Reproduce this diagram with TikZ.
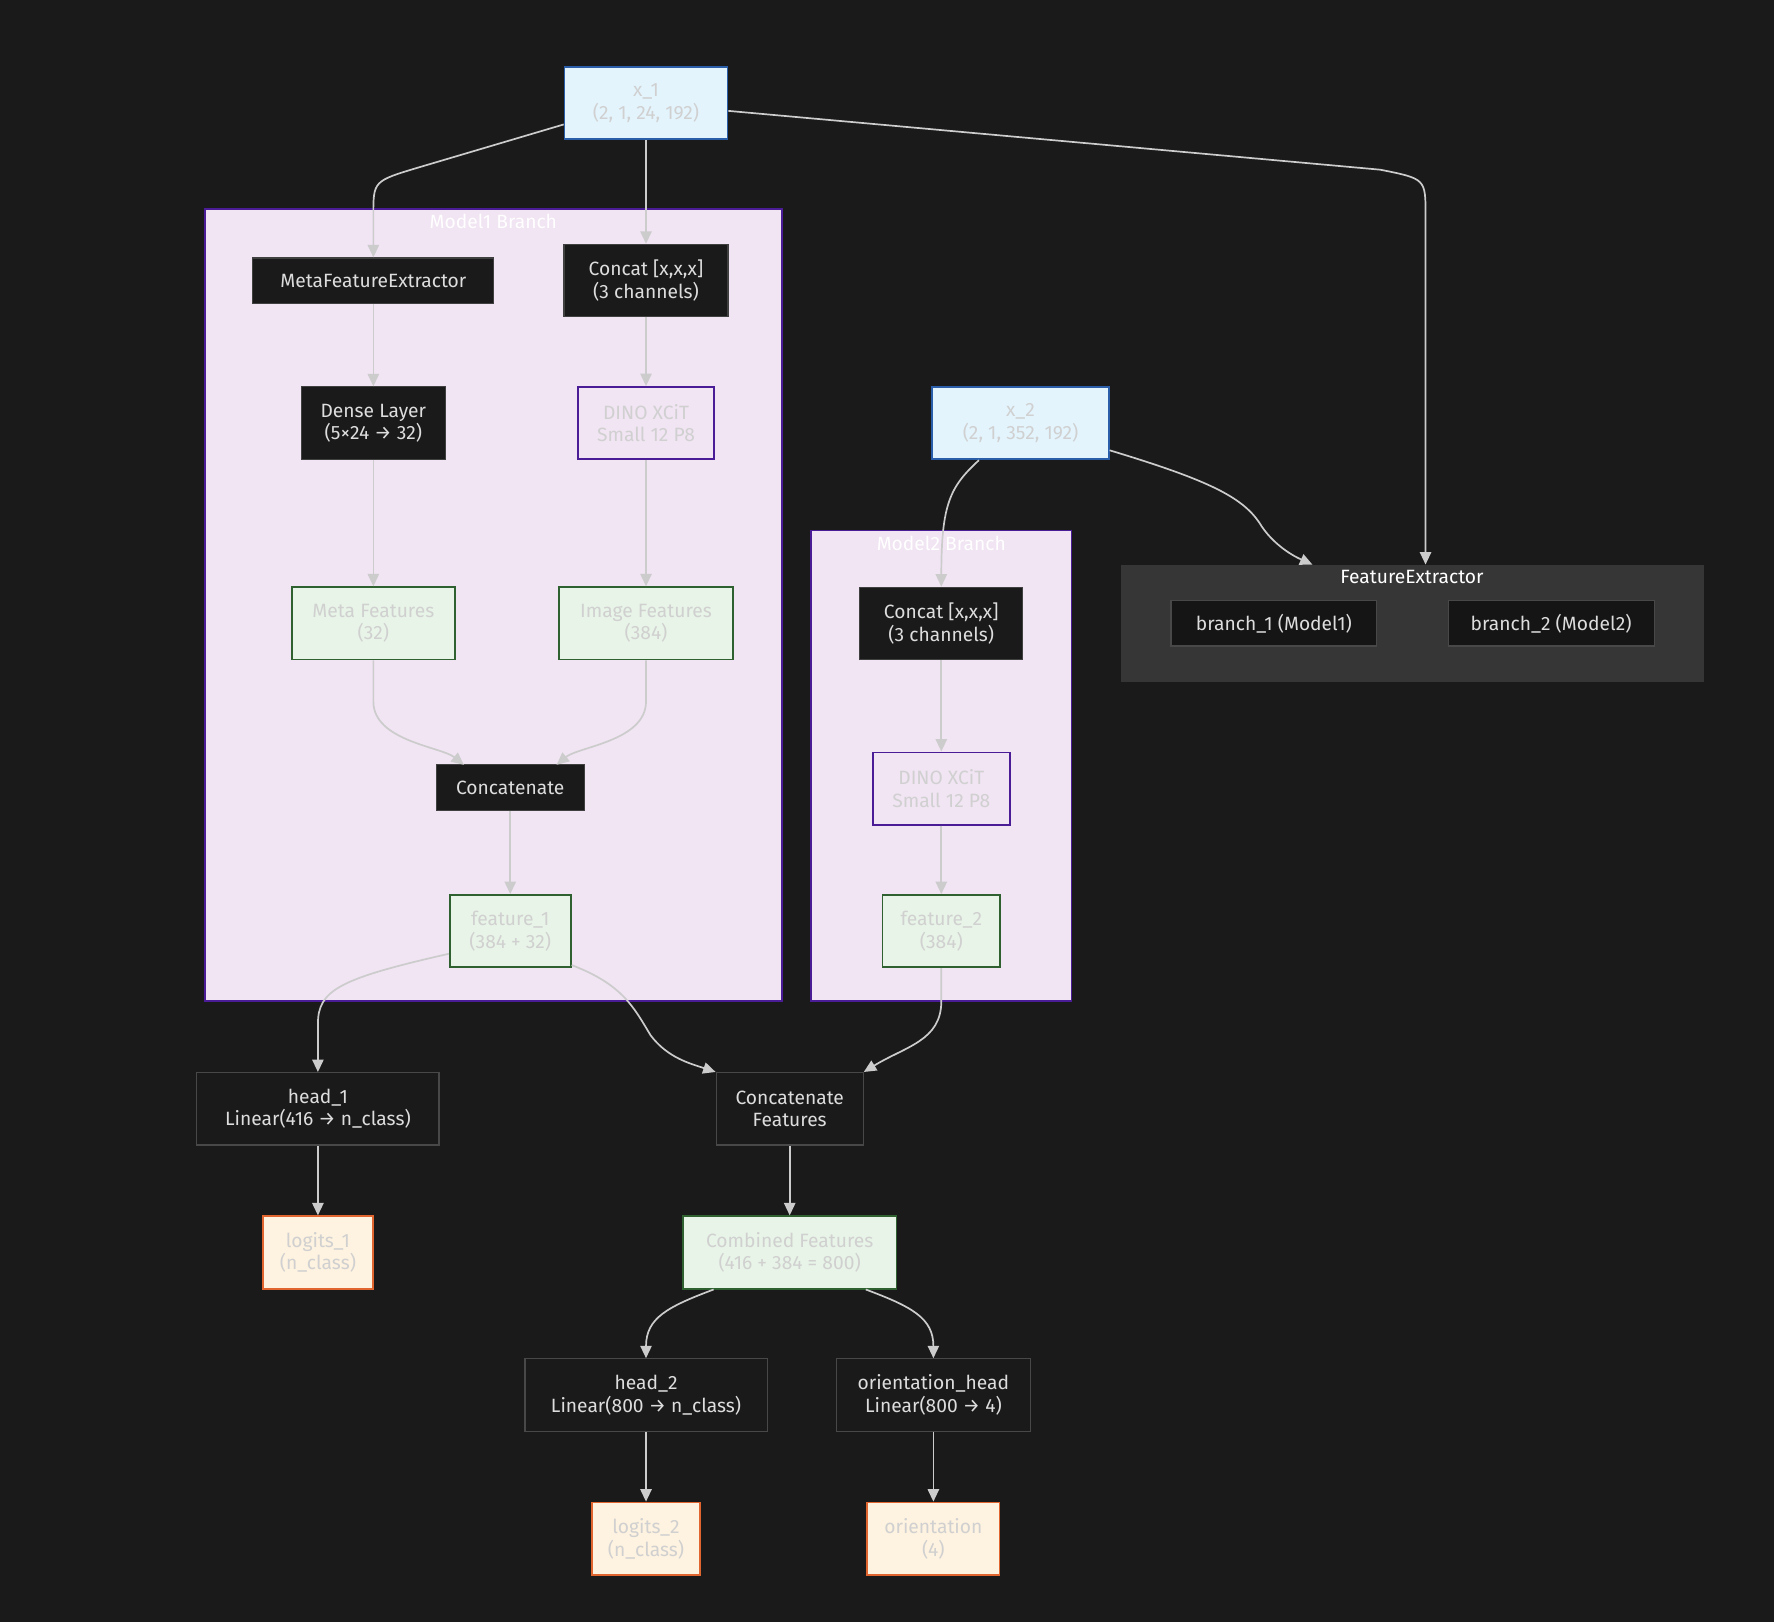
\documentclass[tikz,border=0pt]{standalone}
\usepackage{fontspec}
\setmainfont{Fira Sans}
\usetikzlibrary{arrows.meta}
\definecolor{bg}{HTML}{1A1A1A}
\definecolor{txt}{HTML}{DDDDDD}
\definecolor{lt}{HTML}{D0D0D0}
\definecolor{lav}{HTML}{F1E4F3}
\definecolor{pur}{HTML}{4A1D96}
\definecolor{bluef}{HTML}{E3F4FD}
\definecolor{blueb}{HTML}{2A5EA8}
\definecolor{grf}{HTML}{E8F4E7}
\definecolor{grb}{HTML}{2F6130}
\definecolor{orf}{HTML}{FEF2E0}
\definecolor{orb}{HTML}{E0652E}
\definecolor{edge}{HTML}{CCCCCC}
\begin{document}
\begin{tikzpicture}[x=1pt,y=-1pt,
  every node/.style={font=\fontsize{17}{20}\selectfont, align=center, inner sep=0pt, line width=1.5pt},
  dark/.style={fill=bg, draw=black!50!gray, text=txt, line width=1pt},
  dk2/.style={fill=bg, draw=white!20!bg, text=txt, line width=1pt},
  inp/.style={fill=bluef, draw=blueb, text=lt},
  mdl/.style={fill=lav, draw=pur, text=lt},
  feat/.style={fill=grf, draw=grb, text=lt},
  outp/.style={fill=orf, draw=orb, text=lt},
  cl/.style={fill=lav, draw=pur, line width=1.5pt},
  lbl/.style={text=white},
  e/.style={draw=edge, line width=1.5pt, -{Triangle[length=11pt,width=10pt]}}]
\fill[bg] (0,0) rectangle (1568,1434);
\useasboundingbox (0,0) rectangle (1568,1434);
% clusters
\draw[cl] (181,185) rectangle (691,885);
\node[lbl] (m1l) at (436,196) {Model1 Branch};
\draw[cl] (717,469) rectangle (947,885);
\node[lbl] (m2l) at (832,480) {Model2 Branch};
\fill[white!12!bg] (991,499) rectangle (1506,603);
\node[lbl] (fel) at (1248,510) {FeatureExtractor};
\coordinate (fetop) at (1160,499);
\coordinate (fetop2) at (1260,499);
% nodes
\node[inp, minimum width=144pt, minimum height=64pt] (x1) at (571,91) {x\_1\\(2, 1, 24, 192)};
\node[dark, minimum width=213pt, minimum height=40pt] (mfe) at (330,248) {MetaFeatureExtractor};
\node[dark, minimum width=145pt, minimum height=64pt] (c1) at (571,248) {Concat [x,x,x]\\(3 channels)};
\node[dark, minimum width=127pt, minimum height=64pt] (dense) at (330,374) {Dense Layer\\(5×24 → 32)};
\node[mdl, minimum width=120pt, minimum height=64pt] (dino1) at (571,374) {DINO XCiT\\Small 12 P8};
\node[feat, minimum width=144pt, minimum height=64pt] (mf) at (330,551) {Meta Features\\(32)};
\node[feat, minimum width=154pt, minimum height=64pt] (imf) at (571,551) {Image Features\\(384)};
\node[dark, minimum width=131pt, minimum height=41pt] (cat) at (451,696) {Concatenate};
\node[feat, minimum width=107pt, minimum height=64pt] (f1) at (451,823) {feature\_1\\(384 + 32)};
\node[inp, minimum width=156pt, minimum height=64pt] (x2) at (902,374) {x\_2\\(2, 1, 352, 192)};
\node[dark, minimum width=144pt, minimum height=64pt] (c2) at (832,551) {Concat [x,x,x]\\(3 channels)};
\node[mdl, minimum width=121pt, minimum height=64pt] (dino2) at (832,697) {DINO XCiT\\Small 12 P8};
\node[feat, minimum width=104pt, minimum height=64pt] (f2) at (832,823) {feature\_2\\(384)};
\node[dk2, fill=black!20!bg, minimum width=182pt, minimum height=40pt] (b1) at (1126,551) {branch\_1 (Model1)};
\node[dk2, fill=black!20!bg, minimum width=182pt, minimum height=40pt] (b2) at (1371,551) {branch\_2 (Model2)};
\node[dk2, minimum width=214pt, minimum height=64pt] (h1) at (281,980) {head\_1\\Linear(416 → n\_class)};
\node[dk2, minimum width=130pt, minimum height=64pt] (cf) at (698,980) {Concatenate\\Features};
\node[outp, minimum width=97pt, minimum height=64pt] (l1) at (281,1107) {logits\_1\\(n\_class)};
\node[feat, minimum width=189pt, minimum height=64pt] (comb) at (698,1107) {Combined Features\\(416 + 384 = 800)};
\node[dk2, minimum width=214pt, minimum height=64pt] (h2) at (571,1233) {head\_2\\Linear(800 → n\_class)};
\node[dk2, minimum width=171pt, minimum height=64pt] (oh) at (825,1233) {orientation\_head\\Linear(800 → 4)};
\node[outp, minimum width=96pt, minimum height=64pt] (l2) at (571,1360) {logits\_2\\(n\_class)};
\node[outp, minimum width=117pt, minimum height=64pt] (ori) at (825,1360) {orientation\\(4)};
% edges
\draw[e] (x1.west |- 0,110) -- (370,148) .. controls (330,160) .. (330,190) -- (mfe.north);
\draw[e] (x1) -- (c1);
\draw[e] (x1.east |- 0,98) -- (1220,150) .. controls (1260,158) .. (1260,190) -- (fetop2);
\draw[e] (mfe) -- (dense);
\draw[e] (dense) -- (mf);
\draw[e] (c1) -- (dino1);
\draw[e] (dino1) -- (imf);
\draw[e] (mf.south) -- (330,620) .. controls (330,655) and (390,660) .. (410,676);
\draw[e] (imf.south) -- (571,620) .. controls (571,655) and (511,660) .. (492,676);
\draw[e] (cat) -- (f1);
\draw[e] (x2.south west) ++(42,0) .. controls (840,430) and (832,445) .. (c2.north);
\draw[e] (x2.east |- 0,398) .. controls (1070,425) and (1100,440) .. (1115,465) .. controls (1125,480) and (1140,490) .. (fetop);
\draw[e] (c2) -- (dino2);
\draw[e] (dino2) -- (f2);
\draw[e] (f1.west |- 0,843) .. controls (300,865) and (281,875) .. (281,905) -- (h1.north);
\draw[e] (f1.east |- 0,853) .. controls (550,870) and (560,890) .. (575,915) .. controls (590,935) and (610,940) .. (cf.north west);
\draw[e] (f2.south) -- (832,885) .. controls (832,920) and (800,925) .. (cf.north east);
\draw[e] (h1) -- (l1);
\draw[e] (cf) -- (comb);
\draw[e] (comb.south west) ++(28,0) .. controls (590,1155) and (571,1165) .. (h2.north);
\draw[e] (comb.south east) ++(-28,0) .. controls (806,1155) and (825,1165) .. (oh.north);
\draw[e] (h2) -- (l2);
\draw[e] (oh) -- (ori);
\end{tikzpicture}
\end{document}
